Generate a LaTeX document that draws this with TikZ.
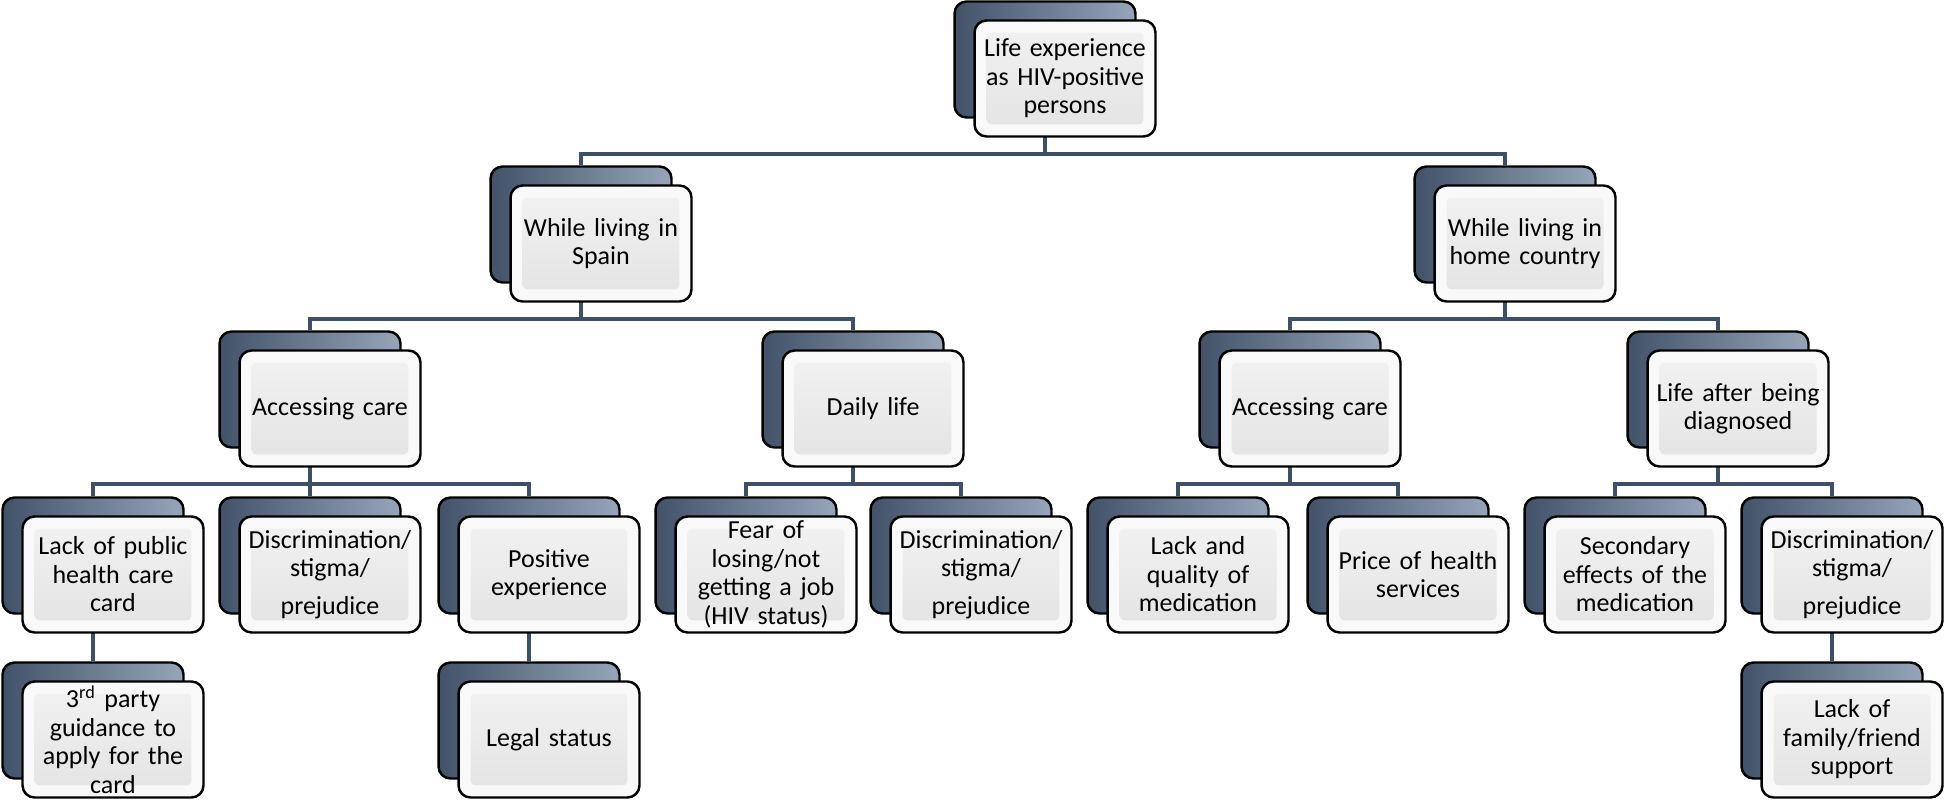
\documentclass[tikz,border=0pt]{standalone}
\usepackage{fontspec}
\setmainfont{Carlito}
\usetikzlibrary{positioning,backgrounds}
\definecolor{slatedark}{RGB}{66,82,104}
\definecolor{slatelight}{RGB}{150,165,185}
\definecolor{linkblue}{RGB}{62,80,104}
\tikzset{
card/.style={rounded corners=0.24cm, draw=black, line width=1.4pt, minimum width=3.62cm, minimum height=2.32cm, inner sep=0pt},
backcard/.style={card, left color=slatedark, right color=slatelight},
frontcard/.style={card, fill=gray!5, text width=3.45cm, align=center, font=\fontsize{14.8}{16.2}\selectfont,
  path picture={\fill[top color=gray!10, bottom color=gray!22, rounded corners=0.1cm]
    ([shift={(12,12)}]path picture bounding box.north west) rectangle ([shift={(-12,-12)}]path picture bounding box.south east);}},
link/.style={draw=linkblue, line width=2.2pt},
}
% back card (name-b) with the front card (name) on top of it
\newcommand{\card}[3]{%
  \node[backcard] (#1-b) at (#2) {};
  \node[frontcard] (#1) at ([shift={(20,19)}]#1-b.center) {#3};
}

\begin{document}
\begin{tikzpicture}[x=0.02cm, y=-0.02cm]
\useasboundingbox (0,0) rectangle (1946,800);
% top
\card{life}{1045,59.5}{Life experience\\as HIV-positive\\persons}
% first level
\card{spain}{581,224.5}{While living in\\Spain}
\card{home}{1505,224.5}{While living in\\home country}
% second level
\card{care-es}{310,389.5}{Accessing care}
\card{daily}{853,389.5}{Daily life}
\card{care-hc}{1290,389.5}{Accessing care}
\card{after}{1718,389.5}{Life after being\\diagnosed}
% third level
\card{card}{93,555.5}{Lack of public\\health care\\card}
\card{discr-es}{310,555.5}{Discrimination/\\stigma/\\[5pt]prejudice}
\card{positive}{529,555.5}{Positive\\experience}
\card{job}{746,555.5}{Fear of\\losing/not\\getting a job\\(HIV status)}
\card{discr-dl}{961,555.5}{Discrimination/\\stigma/\\[5pt]prejudice}
\card{medic}{1178,555.5}{Lack and\\quality of\\medication}
\card{price}{1398,555.5}{Price of health\\services}
\card{effects}{1615,555.5}{Secondary\\effects of the\\medication}
\card{discr-ad}{1832,555.5}{Discrimination/\\stigma/\\[5pt]prejudice}
% fourth level
\card{guidance}{93,720.5}{3\textsuperscript{rd} party\\guidance to\\apply for the\\card}
\card{legal}{529,720.5}{Legal status}
\card{support}{1832,720.5}{Lack of\\family/friend\\support}
% connectors
\begin{scope}[on background layer]
\foreach \p/\c in {life/spain, life/home, spain/care-es, spain/daily, home/care-hc, home/after,
    care-es/card, care-es/discr-es, care-es/positive, daily/job, daily/discr-dl,
    care-hc/medic, care-hc/price, after/effects, after/discr-ad}
  \draw[link] (\p-b.south) -- ++(0,35) -| (\c-b.north);
\foreach \p/\c in {card/guidance, positive/legal, discr-ad/support}
  \draw[link] (\p-b.south) -- (\c-b.north);
\end{scope}
\end{tikzpicture}
\end{document}
